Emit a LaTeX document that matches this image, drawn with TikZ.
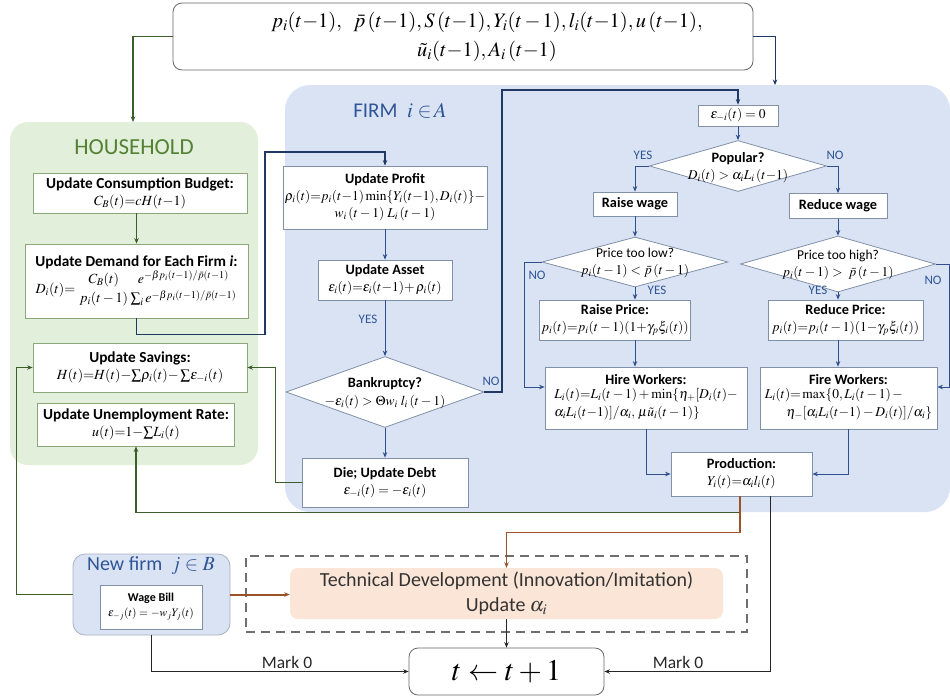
\documentclass[tikz,border=0pt]{standalone}
\usepackage{amsmath}
\usepackage{mathptmx}
\usepackage[no-math]{fontspec}
\setmainfont{Carlito}
\usetikzlibrary{shapes.geometric,arrows.meta,calc}
\definecolor{hhfill}{HTML}{E2EFDA}
\definecolor{hhtitle}{HTML}{548235}
\definecolor{hhborder}{HTML}{8BA87A}
\definecolor{gline}{HTML}{3B5E2B}
\definecolor{firmfill}{HTML}{DAE3F3}
\definecolor{firmtitle}{HTML}{2F5597}
\definecolor{dblue}{HTML}{1F3864}
\definecolor{mblue}{HTML}{2F4F8F}
\definecolor{bborder}{HTML}{8090A8}
\definecolor{orfill}{HTML}{FBE5D6}
\definecolor{brownl}{HTML}{9A5325}
\definecolor{dgray}{HTML}{6E6E6E}
\newcommand\myfs[2]{\fontsize{#1}{#2}\selectfont}
\newcommand\htitle[1]{{\myfs{15.3}{17}\bfseries #1}}
\newcommand\btitle[1]{{\myfs{14.3}{16}\bfseries #1}}
\begin{document}
\begin{tikzpicture}[x=1pt,y=-1pt,
  region/.style={draw=none, rounded corners=18pt, inner sep=0pt},
  box/.style={draw=bborder, line width=0.8pt, fill=white, inner sep=2pt, align=center, font=\myfs{13.5}{17}},
  hbox/.style={box, draw=hhborder, font=\myfs{14}{17}},
  dia/.style={shape=diamond, draw=bborder, fill=white, line width=0.8pt, inner sep=0pt},
  dtext/.style={align=center, inner sep=0pt, font=\myfs{13.5}{17}},
  arr/.style={-{Stealth[length=5.5pt,width=4.5pt]}},
  farr/.style={arr, draw=mblue, line width=0.9pt},
  tarr/.style={arr, draw=dblue, line width=1.7pt},
  garr/.style={arr, draw=gline, line width=1.5pt},
  karr/.style={arr, draw=black!85, line width=0.9pt},
  barr/.style={arr, draw=brownl, line width=1.3pt},
  lbl/.style={font=\myfs{13}{14}, text=firmtitle, inner sep=0pt},
  mlbl/.style={font=\myfs{17.5}{18}, text=black!85, inner sep=0pt}]
\useasboundingbox (0,0) rectangle (950,697);

% regions
\node[region, fill=hhfill, minimum width=248pt, minimum height=343pt] (hh) at (134,293.5) {};
\node[region, fill=firmfill, rounded corners=25pt, minimum width=665pt, minimum height=427pt] (firm) at (617.5,298.5) {};
\node[font=\myfs{23}{24}, text=hhtitle] (hhtitle) at (134,147) {HOUSEHOLD};
\node[font=\myfs{21}{22}, text=firmtitle] (firmtitle) at (400,111) {FIRM\ \ $i \in\! A$};

% top box
\node[draw=black!60, line width=0.8pt, fill=white, rounded corners=9pt, minimum width=580pt, minimum height=67pt] (top) at (463,36.5) {};
\node[font=\myfs{20.5}{29}, align=center, inner sep=0pt] (toptext) at (487,37)
  {$p_i(t{-}1),\ \ \bar{p}\,(t{-}1), S\,(t{-}1), Y_i(t\,{-}\,1), l_i(t{-}1), u\,(t{-}1),$\\ $\tilde{u}_i(t{-}1), A_i\,(t{-}1)$};
\coordinate (hhin) at (133,122);
\coordinate (firmin) at (775,85);

% household boxes
\node[hbox, minimum width=214pt, minimum height=40pt] (b1) at (140,193)
  {\htitle{Update Consumption Budget:}\\ $C_B(t){=}cH(t{-}1)$};
\node[hbox, minimum width=223pt, minimum height=74pt] (b2) at (136.5,281)
  {\htitle{Update Demand for Each Firm \textit{i}:}\\[1pt]
   $D_i(t){=}\;\genfrac{}{}{0pt}{0}{C_B(t)}{p_i(t-1)}\genfrac{}{}{0pt}{0}{e^{-\beta p_i(t-1)/\bar p(t-1)}}{\sum_i e^{-\beta p_i(t-1)/\bar p(t-1)}}$};
\node[hbox, minimum width=214pt, minimum height=49pt] (b3) at (140,367.5)
  {\htitle{Update Savings:}\\ $H(t){=}H(t){-}{\textstyle\sum}\rho_i(t){-}\,{\textstyle\sum}\varepsilon_{-i}(t)$};
\node[hbox, minimum width=197pt, minimum height=43pt] (b4) at (136,424.5)
  {\htitle{Update Unemployment Rate:}\\ $u(t){=}1{-}{\textstyle\sum}L_i(t)$};

% firm column 1
\node[box, minimum width=196pt, minimum height=63pt] (profit) at (385,197.5)
  {\btitle{Update Profit}\\ $\rho_i(t){=}p_i(t{-}1)\min\{Y_i(t{-}1),D_i(t)\}{-}$\\ $w_i\,(t-1)\;L_i\,(t-1)$};
\node[box, minimum width=134pt, minimum height=40pt] (asset) at (385,280)
  {\btitle{Update Asset}\\ $\varepsilon_i(t){=}\varepsilon_i(t{-}1){+}\,\rho_i(t)$};
\node[dia, minimum width=198pt, minimum height=71pt] (bank) at (385,392) {};
\node[dtext] (banktext) at (385,393) {\btitle{Bankruptcy?}\\[1pt] $-\varepsilon_i(t) > \Theta w_i\; l_i\,(t-1)$};
\node[box, minimum width=166pt, minimum height=49pt] (die) at (385,482.5)
  {\btitle{Die; Update Debt}\\ $\varepsilon_{-i}(t) = -\varepsilon_i(t)$};

% firm right part
\node[box, minimum width=80pt, minimum height=21pt, inner sep=1pt] (eps) at (738,115.5) {$\varepsilon_{-i}(t) = 0$};
\node[dia, minimum width=177pt, minimum height=51pt] (pop) at (738,166) {};
\node[dtext] (poptext) at (738,168) {\btitle{Popular?}\\ $D_i(t) > \alpha_i L_i\,(t{-}1)$};
\node[box, minimum width=84pt, minimum height=24pt] (rwage) at (635,204) {\btitle{Raise wage}};
\node[box, minimum width=98pt, minimum height=25pt] (dwage) at (838,206) {\btitle{Reduce wage}};
\node[dia, minimum width=186pt, minimum height=50pt] (low) at (635,262) {};
\node[dtext] (lowtext) at (635,263) {Price too low?\\ $p_i(t-1) < \bar p\,(t-1)$};
\node[dia, minimum width=195pt, minimum height=56pt] (high) at (838,264) {};
\node[dtext] (hightext) at (838,265) {Price too high?\\ $p_i(t-1) >\ \bar p\,(t-1)$};
\node[box, minimum width=116pt, minimum height=40pt] (rprice) at (615,320)
  {\btitle{Raise Price:}\\ $p_i(t){=}p_i(t-1)(1{+}\gamma_p\xi_i(t))$};
\node[box, minimum width=155pt, minimum height=40pt] (dprice) at (845.5,320)
  {\btitle{Reduce Price:}\\ $p_i(t){=}p_i(t-1)(1{-}\gamma_p\xi_i(t))$};
\node[box, minimum width=202pt, minimum height=62pt, font=\myfs{13.5}{18}] (hire) at (646,398)
  {\btitle{Hire Workers:}\\ \begin{tabular}{@{}l@{}}$L_i(t){=}L_i(t-1)+\min\{\eta_+[D_i(t){-}$\\ $\alpha_i L_i(t{-}1)]/\alpha_i,\,\mu\tilde u_i(t-1)\}$\end{tabular}};
\node[box, minimum width=177pt, minimum height=62pt, font=\myfs{13.5}{18}] (fire) at (848.5,398)
  {\btitle{Fire Workers:}\\ \begin{tabular}{@{}l@{}}$L_i(t){=}\max\{0,L_i(t-1)\,-$\\ \hspace{1.6em}$\eta_-[\alpha_i L_i(t{-}1)-D_i(t)]/\alpha_i\}$\end{tabular}};
\node[box, minimum width=141pt, minimum height=44pt] (prod) at (741.5,474)
  {\btitle{Production:}\\ $Y_i(t){=}\alpha_i l_i(t)$};

% bottom
\node[draw=dgray, dash pattern=on 9pt off 6pt, line width=1.8pt, minimum width=501pt, minimum height=76pt, inner sep=0pt] (dash) at (496.5,594) {};
\node[fill=orfill, rounded corners=8pt, minimum width=433pt, minimum height=51pt, align=center, font=\myfs{20}{25}, text=black!80] (tech) at (506.5,593.5)
  {Technical Development (Innovation/Imitation)\\ Update $\alpha_i$};
\node[fill=firmfill, draw=bborder!70, line width=0.8pt, rounded corners=12pt, minimum width=157pt, minimum height=81pt] (newfirm) at (151.5,594.5) {};
\node[font=\myfs{20}{22}, text=firmtitle] (nftitle) at (151,566) {New firm\ \ $j\in B$};
\node[box, minimum width=102pt, minimum height=44pt, inner sep=1pt, font=\myfs{11.5}{15}] (wage) at (151,607)
  {{\myfs{12}{14}\bfseries Wage Bill}\\ $\varepsilon_{-j}(t) = -w_jY_j(t)$};
\node[draw=black!60, line width=0.8pt, fill=white, rounded corners=9pt, minimum width=195pt, minimum height=47pt, font=\myfs{30}{30}] (tnext) at (506.5,671.5) {$t \leftarrow t+1$};

% labels
\node[lbl] (yes1) at (368,319) {YES};
\node[lbl] (no1) at (491,381) {NO};
\node[lbl] (yes2) at (643,155) {YES};
\node[lbl] (no2) at (835,155) {NO};
\node[lbl] (no3) at (537,275) {NO};
\node[lbl] (yes3) at (657,290) {YES};
\node[lbl] (no4) at (933,280) {NO};
\node[lbl] (yes4) at (818,290) {YES};
\node[mlbl] (mark1) at (287,662) {Mark 0};
\node[mlbl] (mark2) at (678,662) {Mark 0};

% connectors
\draw[garr] (top.west) -| (hhin);
\draw[tarr, line width=1pt] (top.east) -| (firmin);
\draw[garr, line width=1pt] (b2.north |- b1.south) -- (b2.north);
\draw[tarr] (b2.south) -- ++(0,16) -| (265,152) -| (profit.north);
\draw[farr] (profit) -- (asset);
\draw[farr] (asset) -- (bank);
\draw[farr] (bank) -- (die);
\draw[tarr] (bank.east) -| (502,90) -| (eps.north);
\draw[garr] (die.west) -| ($(b3.east)+(28,0)$) -- (b3.east);
\draw[farr] (eps) -- (pop);
\draw[farr] (pop.west) -| (rwage.north);
\draw[farr] (pop.east) -| (dwage.north);
\draw[farr] (rwage) -- (low);
\draw[farr] (dwage) -- (high);
\draw[farr] (low.south) -- (low.south |- rprice.north);
\draw[farr] (high.south) -- (high.south |- dprice.north);
\draw[farr] (low.south |- rprice.south) -- (low.south |- hire.north);
\draw[farr] (high.south |- dprice.south) -- (high.south |- fire.north);
\draw[farr] (low.west) -- ++(-17,0) |- ($(hire.west)+(0,-11)$);
\draw[farr] (high.east) -- (949,264) |- ($(fire.east)+(0,-11)$);
\draw[farr] (hire.south) |- (prod.west);
\draw[farr] (fire.south) |- (prod.east);
\draw[garr] ($(prod.south)+(-1.5,0)$) -- ++(0,16) -| (b4.south);
\draw[barr] ($(prod.south)+(-1.5,0)$) -- ++(0,36) -| (tech.north);
\draw[karr] ($(prod.south)+(28.5,0)$) |- (tnext.east);
\draw[garr] (newfirm.west) -- ++(-56,0) |- (b3.west);
\draw[barr, line width=2pt] (newfirm.east) -- (newfirm.east -| tech.west);
\draw[karr] (newfirm.south) |- (tnext.west);
\draw[karr] (tech.south) -- (tnext.north);
\end{tikzpicture}
\end{document}
